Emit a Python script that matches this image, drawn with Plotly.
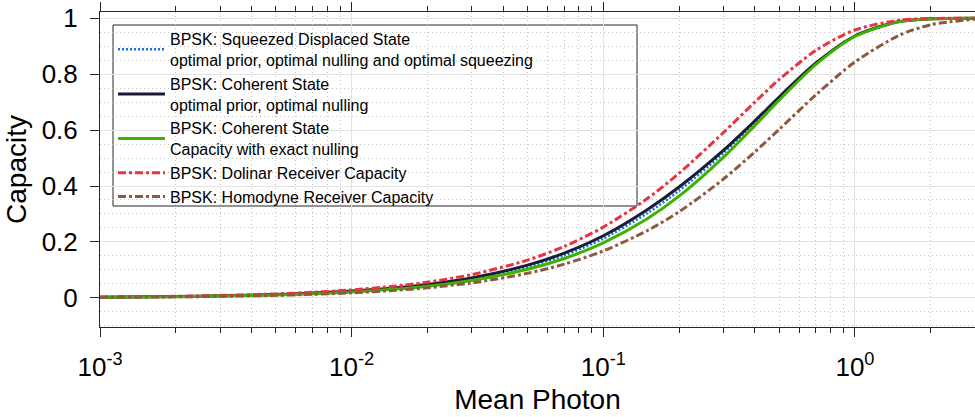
import plotly.graph_objects as go

# Mean photon number samples (x)
mean_photon = [0.001, 0.002, 0.003, 0.005, 0.007, 0.01, 0.015, 0.02, 0.03, 0.05, 0.07,
               0.1, 0.15, 0.2, 0.3, 0.4, 0.5, 0.7, 1.0, 1.5, 2.0, 3.0]

# Capacity values
cap_squeezed = [0.0023, 0.0046, 0.0070, 0.0116, 0.0162, 0.0231, 0.0344, 0.0457, 0.0679, 0.1111, 0.1526,
                0.2120, 0.3033, 0.3832, 0.5173, 0.6259, 0.7136, 0.8377, 0.9355, 0.9877, 0.9978, 0.9999]
cap_coherent_opt = [0.0025, 0.0049, 0.0074, 0.0123, 0.0171, 0.0244, 0.0364, 0.0483, 0.0717, 0.1170, 0.1604,
                    0.2221, 0.3163, 0.3963, 0.5272, 0.6326, 0.7180, 0.8397, 0.9363, 0.9878, 0.9978, 1.0000]
cap_exact_null = [0.0021, 0.0042, 0.0064, 0.0106, 0.0148, 0.0211, 0.0315, 0.0418, 0.0623, 0.1023, 0.1410,
                  0.1968, 0.2839, 0.3636, 0.5025, 0.6158, 0.7069, 0.8347, 0.9344, 0.9875, 0.9978, 0.9999]
cap_dolinar = [0.0029, 0.0057, 0.0086, 0.0143, 0.0200, 0.0285, 0.0424, 0.0562, 0.0832, 0.1350, 0.1841,
               0.2530, 0.3559, 0.4454, 0.5907, 0.6997, 0.7808, 0.8850, 0.9577, 0.9925, 0.9987, 1.0000]
cap_homodyne = [0.0018, 0.0037, 0.0055, 0.0091, 0.0128, 0.0182, 0.0272, 0.0361, 0.0537, 0.0878, 0.1207,
                0.1679, 0.2411, 0.3079, 0.4245, 0.5217, 0.6026, 0.7259, 0.8434, 0.9387, 0.9762, 0.9965]

series_names = [
    "BPSK: Squeezed Displaced State<br>optimal prior, optimal nulling and optimal squeezing",
    "BPSK: Coherent State<br>optimal prior, optimal nulling",
    "BPSK: Coherent State<br>Capacity with exact nulling",
    "BPSK: Dolinar Receiver Capacity",
    "BPSK: Homodyne Receiver Capacity",
]

x_tick_vals = [0.001, 0.01, 0.1, 1]
x_tick_text = ["10<sup>-3</sup>", "10<sup>-2</sup>", "10<sup>-1</sup>", "10<sup>0</sup>"]
y_tick_vals = [0, 0.2, 0.4, 0.6, 0.8, 1]
y_tick_text = ["0", "0.2", "0.4", "0.6", "0.8", "1"]

FONT = "Liberation Sans, Arial, sans-serif"

styles = [
    dict(color="#1a6fdf", width=2.5, dash="2px,2px"),
    dict(color="#1b1b3a", width=3, dash="solid"),
    dict(color="#3db300", width=3, dash="solid"),
    dict(color="#e8343f", width=3, dash="8px,3px,3px,3px"),
    dict(color="#8b5a40", width=3, dash="8px,3px,3px,3px"),
]
data = [cap_squeezed, cap_coherent_opt, cap_exact_null, cap_dolinar, cap_homodyne]

fig = go.Figure()
for name, ys, st in zip(series_names, data, styles):
    fig.add_trace(go.Scatter(x=mean_photon, y=ys, mode="lines", name=name,
                             line=dict(shape="spline", smoothing=0.8, **st)))

minor_x = [k * 10 ** e for e in range(-3, 1) for k in range(2, 10) if k * 10 ** e <= 3]

fig.update_layout(
    width=975, height=417,
    margin=dict(l=100, r=0, t=12, b=90),
    paper_bgcolor="white", plot_bgcolor="white",
    font=dict(family=FONT, color="black"),
    showlegend=True,
    legend=dict(
        x=(113 - 100) / 875, y=(327 - 22) / 315, xanchor="left", yanchor="top",
        bgcolor="rgba(0,0,0,0)", borderwidth=0,
        font=dict(family=FONT, size=16, color="black"),
        itemwidth=47, tracegroupgap=0,
    ),
    shapes=[dict(type="rect", xref="paper", yref="paper",
                 x0=(113 - 100) / 875, x1=(637 - 100) / 875,
                 y0=(327 - 206) / 315, y1=(327 - 25) / 315,
                 line=dict(color="#262626", width=1), fillcolor="white", layer="between")],
)

fig.update_xaxes(
    type="log", range=[-3, 0.4771],
    tickmode="array", tickvals=x_tick_vals, ticktext=x_tick_text,
    tickfont=dict(size=26, family=FONT, color="black"),
    ticks="outside", ticklen=9, tickcolor="#262626", tickwidth=1,
    ticklabelstandoff=8,
    showline=True, linecolor="#262626", linewidth=1, mirror="allticks",
    showgrid=True, gridcolor="#e3e3e3", gridwidth=1,
    minor=dict(tickmode="array", tickvals=minor_x, ticks="outside", ticklen=5,
               tickcolor="#262626", showgrid=True, gridcolor="#c4c4c4",
               griddash="1px,3px", gridwidth=1),
    title=dict(text="Mean Photon", font=dict(size=28, family=FONT, color="black"), standoff=8),
    zeroline=False,
)
fig.update_yaxes(
    range=[-0.104, 1.022],
    tickmode="array", tickvals=y_tick_vals, ticktext=y_tick_text,
    tickfont=dict(size=26, family=FONT, color="black"),
    ticks="outside", ticklen=9, tickcolor="#262626", tickwidth=1,
    ticklabelstandoff=7,
    showline=True, linecolor="#262626", linewidth=1, mirror=False,
    showgrid=True, gridcolor="#e3e3e3", gridwidth=1,
    minor=dict(dtick=0.05, tick0=0, showgrid=True, gridcolor="#c4c4c4",
               griddash="1px,3px", gridwidth=1, ticks=""),
    title=dict(text="Capacity", font=dict(size=28, family=FONT, color="black"), standoff=6),
    zeroline=False,
)

fig.write_html("out.html")
